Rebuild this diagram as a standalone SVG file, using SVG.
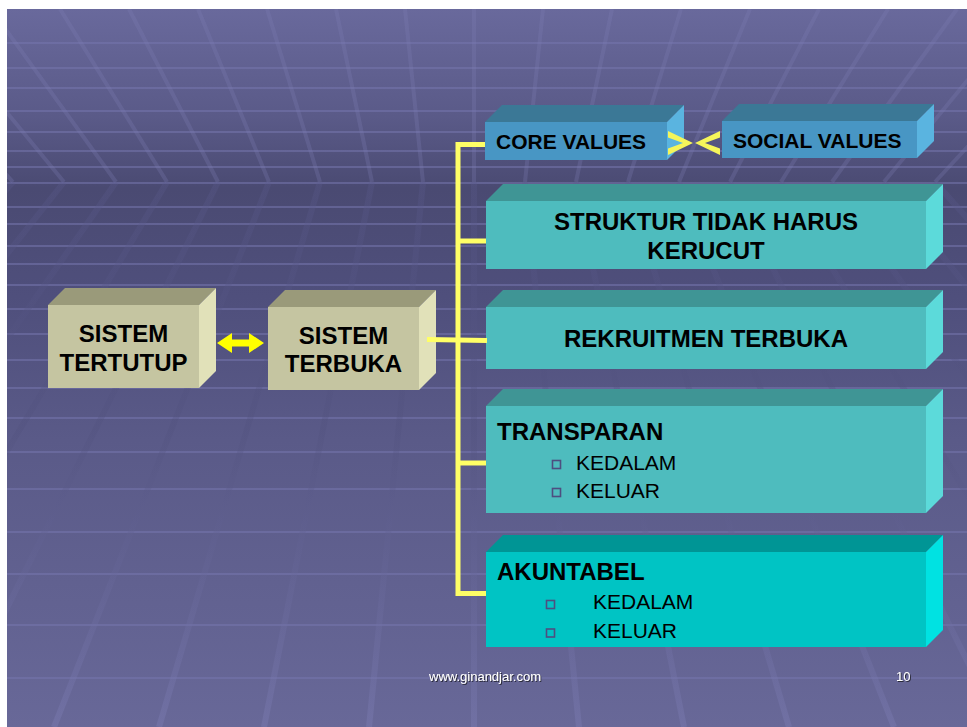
<svg xmlns="http://www.w3.org/2000/svg" width="967" height="727" viewBox="0 0 967 727">
<defs>
<style>
.t{font-family:"Liberation Sans",Arial,sans-serif;fill:#000}
.b{font-weight:bold;font-size:24px}
.s{font-weight:bold;font-size:21px}
.n{font-size:21px}
.ft{font-family:"Liberation Sans",Arial,sans-serif;font-size:13px;fill:#ffffff}
.stripe{stroke:#7676ae;stroke-width:2;opacity:0.55}
.ceil{stroke:#7c7cb4;stroke-width:4;opacity:0.28;fill:none}
.floor{stroke:url(#floorG);stroke-width:6;fill:none}
.conn{stroke:#ffff66;stroke-width:5;fill:none}
.olF{fill:#c5c5a1}.olT{fill:#9a9a7a}.olS{fill:#e1e1b9}
.blF{fill:#4896c4}.blT{fill:#3b7896}.blS{fill:#5ab4e0}
.tlF{fill:#4ebcbe}.tlT{fill:#3f9595}.tlS{fill:#5cdada}
.cyF{fill:#00c4c4}.cyT{fill:#009595}.cyS{fill:#00e2e2}
.bul{fill:none;stroke:#4e4e80;stroke-width:1.6}
</style>
<linearGradient id="bg" x1="0" y1="9" x2="0" y2="727" gradientUnits="userSpaceOnUse">
<stop offset="0" stop-color="#69699c"/>
<stop offset="0.15" stop-color="#5a5a88"/>
<stop offset="0.25" stop-color="#4a4a72"/>
<stop offset="0.4" stop-color="#4f4f7c"/>
<stop offset="0.6" stop-color="#5a5a88"/>
<stop offset="1" stop-color="#686898"/>
</linearGradient>
<linearGradient id="floorG" x1="0" y1="182" x2="0" y2="727" gradientUnits="userSpaceOnUse">
<stop offset="0" stop-color="#5a5a8c" stop-opacity="0.3"/>
<stop offset="0.45" stop-color="#50507c" stop-opacity="0.3"/>
<stop offset="1" stop-color="#8080b8" stop-opacity="0.35"/>
</linearGradient>
<clipPath id="slide"><rect x="7" y="9" width="960" height="718"/></clipPath>
<filter id="sh" x="-5%" y="-30%" width="110%" height="160%">
<feDropShadow dx="1" dy="1" stdDeviation="0.3" flood-color="#222233" flood-opacity="0.9"/>
</filter>
</defs>
<rect x="0" y="0" width="967" height="727" fill="#ffffff"/>
<g id="background" clip-path="url(#slide)">
<rect x="7" y="9" width="960" height="718" fill="url(#bg)"/>
<g>
<line class="stripe" x1="7" y1="43" x2="967" y2="43"/>
<line class="stripe" x1="7" y1="68" x2="967" y2="68"/>
<line class="stripe" x1="7" y1="88" x2="967" y2="88"/>
<line class="stripe" x1="7" y1="111" x2="967" y2="111"/>
<line class="stripe" x1="7" y1="132" x2="967" y2="132"/>
<line class="stripe" x1="7" y1="151" x2="967" y2="151"/>
<line class="stripe" x1="7" y1="167" x2="967" y2="167"/>
<line class="stripe" x1="7" y1="183" x2="967" y2="183"/>
<line class="stripe" x1="7" y1="207" x2="967" y2="207"/>
<line class="stripe" x1="7" y1="224" x2="967" y2="224"/>
<line class="stripe" x1="7" y1="246" x2="967" y2="246"/>
<line class="stripe" x1="7" y1="264" x2="967" y2="264"/>
<line class="stripe" x1="7" y1="285" x2="967" y2="285"/>
<line class="stripe" x1="7" y1="309" x2="967" y2="309"/>
<line class="stripe" x1="7" y1="334" x2="967" y2="334"/>
<line class="stripe" x1="7" y1="360" x2="967" y2="360"/>
<line class="stripe" x1="7" y1="388" x2="967" y2="388"/>
<line class="stripe" x1="7" y1="418" x2="967" y2="418"/>
<line class="stripe" x1="7" y1="452" x2="967" y2="452"/>
<line class="stripe" x1="7" y1="489" x2="967" y2="489"/>
<line class="stripe" x1="7" y1="532" x2="967" y2="532"/>
<line class="stripe" x1="7" y1="574" x2="967" y2="574"/>
<line class="stripe" x1="7" y1="625" x2="967" y2="625"/>
<line class="stripe" x1="7" y1="678" x2="967" y2="678"/>
</g>
<g>
<path class="ceil" d="M-147,9 L13,182"/><path class="floor" d="M13,182 L-472,727"/>
<path class="ceil" d="M-78,9 L64,182"/><path class="floor" d="M64,182 L-367,727"/>
<path class="ceil" d="M-9,9 L116,182"/><path class="floor" d="M116,182 L-262,727"/>
<path class="ceil" d="M60,9 L167,182"/><path class="floor" d="M167,182 L-157,727"/>
<path class="ceil" d="M129,9 L218,182"/><path class="floor" d="M218,182 L-52,727"/>
<path class="ceil" d="M198,9 L269,182"/><path class="floor" d="M269,182 L54,727"/>
<path class="ceil" d="M267,9 L320,182"/><path class="floor" d="M320,182 L159,727"/>
<path class="ceil" d="M336,9 L372,182"/><path class="floor" d="M372,182 L264,727"/>
<path class="ceil" d="M405,9 L423,182"/><path class="floor" d="M423,182 L369,727"/>
<path class="ceil" d="M474,9 L474,182"/><path class="floor" d="M474,182 L474,727"/>
<path class="ceil" d="M543,9 L525,182"/><path class="floor" d="M525,182 L579,727"/>
<path class="ceil" d="M612,9 L576,182"/><path class="floor" d="M576,182 L684,727"/>
<path class="ceil" d="M681,9 L628,182"/><path class="floor" d="M628,182 L789,727"/>
<path class="ceil" d="M750,9 L679,182"/><path class="floor" d="M679,182 L894,727"/>
<path class="ceil" d="M819,9 L730,182"/><path class="floor" d="M730,182 L1000,727"/>
<path class="ceil" d="M888,9 L781,182"/><path class="floor" d="M781,182 L1105,727"/>
<path class="ceil" d="M957,9 L832,182"/><path class="floor" d="M832,182 L1210,727"/>
<path class="ceil" d="M1026,9 L884,182"/><path class="floor" d="M884,182 L1315,727"/>
<path class="ceil" d="M1095,9 L935,182"/><path class="floor" d="M935,182 L1420,727"/>
</g>
</g>
<g id="sistem-tertutup">
<polygon class="olT" points="48,305 65,288 216,288 199,305"/>
<polygon class="olS" points="199,305 216,288 216,371 199,388"/>
<rect class="olF" x="48" y="305" width="151" height="83"/>
<text class="t b" x="123.5" y="342" text-anchor="middle">SISTEM</text>
<text class="t b" x="123.5" y="371" text-anchor="middle">TERTUTUP</text>
</g>
<g id="sistem-terbuka">
<polygon class="olT" points="268,307 285,290 436,290 419,307"/>
<polygon class="olS" points="419,307 436,290 436,373 419,390"/>
<rect class="olF" x="268" y="307" width="151" height="83"/>
<text class="t b" x="343.5" y="344" text-anchor="middle">SISTEM</text>
<text class="t b" x="343.5" y="372" text-anchor="middle">TERBUKA</text>
</g>
<g id="core-values">
<polygon class="blT" points="485,122 502,105 684,105 667,122"/>
<polygon class="blS" points="667,122 684,105 684,143 667,160"/>
<rect class="blF" x="485" y="122" width="182" height="38"/>
<text class="t s" x="496" y="149">CORE VALUES</text>
</g>
<g id="social-values">
<polygon class="blT" points="722,121 739,104 934,104 917,121"/>
<polygon class="blS" points="917,121 934,104 934,141 917,158"/>
<rect class="blF" x="722" y="121" width="195" height="37"/>
<text class="t s" x="733" y="148">SOCIAL VALUES</text>
</g>
<g id="struktur">
<polygon class="tlT" points="486,201 503,184 943,184 926,201"/>
<polygon class="tlS" points="926,201 943,184 943,252 926,269"/>
<rect class="tlF" x="486" y="201" width="440" height="68"/>
<text class="t b" x="706" y="230" text-anchor="middle">STRUKTUR TIDAK HARUS</text>
<text class="t b" x="706" y="259" text-anchor="middle">KERUCUT</text>
</g>
<g id="rekruitmen">
<polygon class="tlT" points="486,307 503,290 943,290 926,307"/>
<polygon class="tlS" points="926,307 943,290 943,352 926,369"/>
<rect class="tlF" x="486" y="307" width="440" height="62"/>
<text class="t b" x="706" y="347" text-anchor="middle">REKRUITMEN TERBUKA</text>
</g>
<g id="transparan">
<polygon class="tlT" points="486,406 503,389 943,389 926,406"/>
<polygon class="tlS" points="926,406 943,389 943,496 926,513"/>
<rect class="tlF" x="486" y="406" width="440" height="107"/>
<text class="t b" x="497" y="440">TRANSPARAN</text>
<rect class="bul" x="552.5" y="460.5" width="8" height="8"/>
<text class="t n" x="576" y="470">KEDALAM</text>
<rect class="bul" x="552.5" y="488.5" width="8" height="8"/>
<text class="t n" x="576" y="498">KELUAR</text>
</g>
<g id="akuntabel">
<polygon class="cyT" points="486,552 503,535 943,535 926,552"/>
<polygon class="cyS" points="926,552 943,535 943,630 926,647"/>
<rect class="cyF" x="486" y="552" width="440" height="95"/>
<text class="t b" x="497" y="580">AKUNTABEL</text>
<rect class="bul" x="546.5" y="600.5" width="8" height="8"/>
<text class="t n" x="593" y="609">KEDALAM</text>
<rect class="bul" x="546.5" y="629" width="8" height="8"/>
<text class="t n" x="593" y="638">KELUAR</text>
</g>
<g id="connectors">
<polygon fill="#ffff00" points="217,343 232,333 232,339.5 249,339.5 249,333 264,343 249,353 249,346.5 232,346.5 232,353"/>
<path class="conn" d="M485,144.5 H458 V593.5 H486"/>
<path class="conn" d="M458,241 H486"/>
<path class="conn" d="M458,463 H486"/>
<path class="conn" d="M427,339.5 L487,340.5"/>
<polygon fill="#f5f55a" points="668,131 693,143 668,155 668,148.5 683,143 668,137.5"/>
<polygon fill="#f5f55a" points="720,131 695,143 720,155 720,148.5 705,143 720,137.5"/>
</g>
<g id="footer" filter="url(#sh)">
<text class="ft" x="429" y="681">www.ginandjar.com</text>
<text class="ft" x="896" y="681">10</text>
</g>
</svg>
